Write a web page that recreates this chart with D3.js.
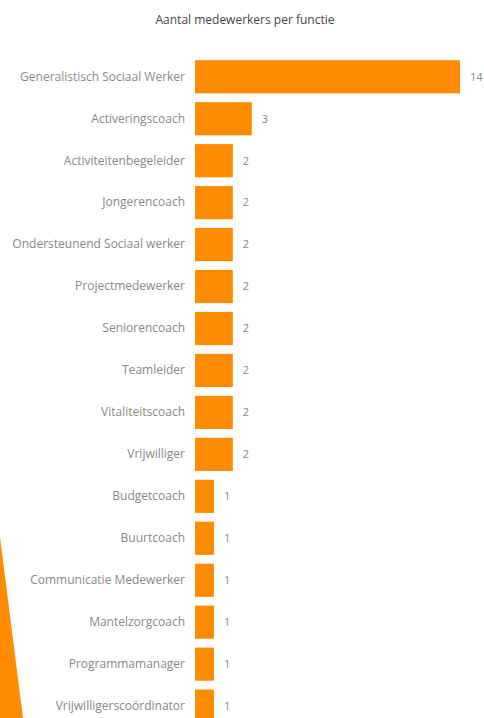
<!DOCTYPE html>
<html>
<head>
<meta charset="utf-8">
<script src="https://cdn.jsdelivr.net/npm/d3@7"></script>
<style>
html,body{margin:0;padding:0;background:#fff;overflow:hidden;}
svg{display:block;}
</style>
</head>
<body>
<script>
const categories = [
  "Generalistisch Sociaal Werker","Activeringscoach","Activiteitenbegeleider","Jongerencoach",
  "Ondersteunend Sociaal werker","Projectmedewerker","Seniorencoach","Teamleider",
  "Vitaliteitscoach","Vrijwilliger","Budgetcoach","Buurtcoach",
  "Communicatie Medewerker","Mantelzorgcoach","Programmamanager","Vrijwilligerscoördinator"
];
const values = [14,3,2,2,2,2,2,2,2,2,1,1,1,1,1,1];
const title = "Aantal medewerkers per functie";

const W = 484, H = 718;
const svg = d3.select("body").append("svg").attr("width", W).attr("height", H);

// decorative orange wedge bottom-left
svg.append("path").attr("d", "M0,537 L23,718 L0,718 Z").attr("fill", "#FF8C00");

svg.append("text").attr("x", 245).attr("y", 24).attr("text-anchor", "middle")
  .attr("font-family", "'Open Sans', sans-serif").attr("font-size", 12).attr("fill", "#444")
  .text(title);

const left = 195;
const x = d3.scaleLinear().domain([0, 14]).range([left, 460]);
const y = d3.scaleBand().domain(categories).range([56, 56 + 41.93 * 16]).paddingInner(0.21).paddingOuter(0.1);

svg.selectAll("rect.bar").data(categories).join("rect").attr("class", "bar")
  .attr("x", x(0)).attr("y", d => y(d))
  .attr("width", (d, i) => x(values[i]) - x(0)).attr("height", y.bandwidth())
  .attr("fill", "#FF8C00");

const yAxis = d3.axisLeft(y).tickSize(0).tickPadding(10);
const g = svg.append("g").attr("transform", `translate(${left},0)`).call(yAxis);
g.select(".domain").remove();
g.selectAll("text").attr("font-family", "'Open Sans', sans-serif").attr("font-size", 12).attr("fill", "#888");

svg.selectAll("text.val").data(categories).join("text").attr("class", "val")
  .attr("x", (d, i) => x(values[i]) + 10).attr("y", d => y(d) + y.bandwidth() / 2)
  .attr("dy", "0.35em").attr("font-family", "'Open Sans', sans-serif").attr("font-size", 11).attr("fill", "#888")
  .text((d, i) => values[i]);
</script>
</body>
</html>
